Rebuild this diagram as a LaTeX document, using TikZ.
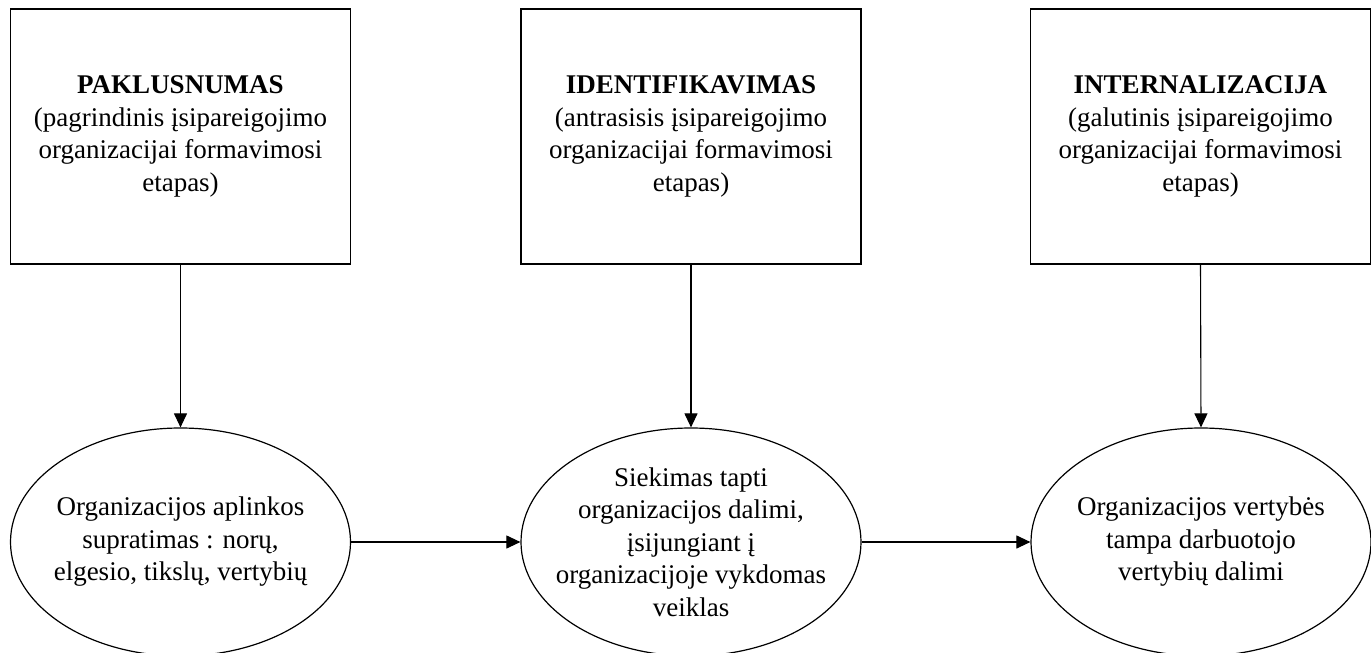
\documentclass[tikz,border=0pt]{standalone}
\usepackage{fontspec}
\setmainfont{Liberation Serif}
\usetikzlibrary{shapes.geometric,arrows.meta}

\begin{document}
\begin{tikzpicture}[x=1pt,y=-1pt,
  every node/.style={font=\fontsize{27}{32.5}\selectfont},
  stagebox/.style={draw, line width=1.3pt, rectangle, minimum width=340pt,
    minimum height=255pt, inner sep=0pt, align=center},
  oval/.style={draw, line width=1.2pt, ellipse, minimum width=340pt,
    minimum height=228pt, inner sep=0pt},
  ovaltext/.style={align=center, inner sep=0pt},
  link/.style={line width=1.1pt, -{Triangle[length=14pt,width=13pt]}}]

  \useasboundingbox (0,0) rectangle (1371,653);

  % stages
  \node[stagebox] (b1) at (180.5,136.5) {\textbf{PAKLUSNUMAS}\\(pagrindinis įsipareigojimo\\organizacijai formavimosi\\etapas)};
  \node[stagebox] (b2) at (691,136.5) {\textbf{IDENTIFIKAVIMAS}\\(antrasisis įsipareigojimo\\organizacijai formavimosi\\etapas)};
  \node[stagebox] (b3) at (1200.5,136.5) {\textbf{INTERNALIZACIJA}\\(galutinis įsipareigojimo\\organizacijai formavimosi\\etapas)};

  % outcomes
  \node[oval] (e1) at (180.5,542) {};
  \node[oval] (e2) at (691,542) {};
  \node[oval] (e3) at (1201,542) {};
  \node[ovaltext] (t1) at (e1) {Organizacijos aplinkos\\supratimas : norų,\\elgesio, tikslų, vertybių};
  \node[ovaltext] (t2) at (e2) {Siekimas tapti\\organizacijos dalimi,\\įsijungiant į\\organizacijoje vykdomas\\veiklas};
  \node[ovaltext] (t3) at (e3) {Organizacijos vertybės\\tampa darbuotojo\\vertybių dalimi};

  % connectors
  \draw[link] (b1.south) -- (e1.north);
  \draw[link] (b2.south) -- (e2.north);
  \draw[link] (b3.south) -- (e3.north);
  \draw[link] (e1.east) -- (e2.west);
  \draw[link] (e2.east) -- (e3.west);
\end{tikzpicture}
\end{document}
